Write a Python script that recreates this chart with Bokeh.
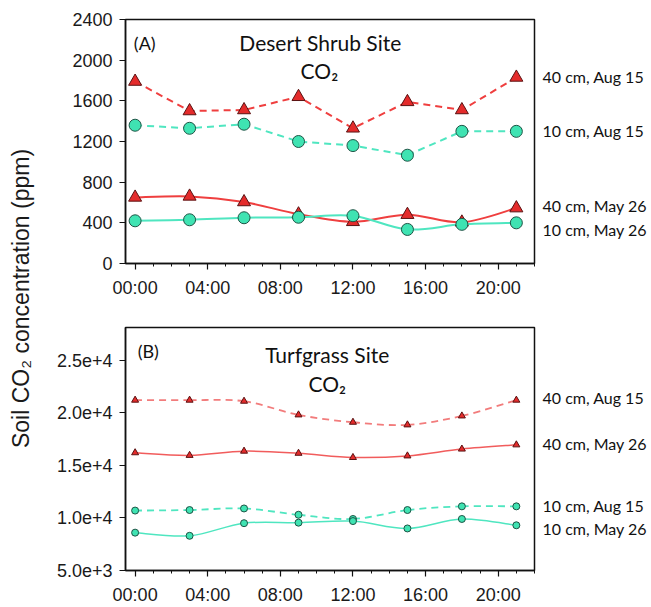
import math
from bokeh.plotting import figure
from bokeh.models import Label, FixedTicker, Range1d, LinearAxis
from bokeh.layouts import row, column
from bokeh.embed import file_html
from bokeh.resources import INLINE
from bokeh.core.properties import value

# ---------------- data ----------------
hours = [0, 3, 6, 9, 12, 15, 18, 21]
x_ticks = [0, 4, 8, 12, 16, 20]
x_tick_labels = ["00:00", "04:00", "08:00", "12:00", "16:00", "20:00"]

desert_40_aug = [1790, 1500, 1510, 1640, 1330, 1590, 1510, 1830]
desert_10_aug = [1360, 1330, 1370, 1200, 1160, 1065, 1300, 1300]
desert_40_may = [650, 660, 605, 485, 410, 480, 405, 545]
desert_10_may = [420, 430, 450, 455, 470, 335, 385, 400]

turf_40_aug = [21200, 21200, 21100, 19800, 19100, 18850, 19700, 21200]
turf_40_may = [16200, 15950, 16350, 16150, 15750, 15900, 16550, 16950]
turf_10_aug = [10700, 10750, 10900, 10300, 9900, 10750, 11100, 11100]
turf_10_may = [8600, 8300, 9500, 9550, 9700, 9000, 9900, 9300]

desert_y_ticks = [0, 400, 800, 1200, 1600, 2000, 2400]
turf_y_ticks = [5000, 10000, 15000, 20000, 25000]
turf_y_tick_labels = ["5.0e+3", "1.0e+4", "1.5e+4", "2.0e+4", "2.5e+4"]

desert_names = ["40 cm, Aug 15", "10 cm, Aug 15", "40 cm, May 26", "10 cm, May 26"]
desert_label_y = [1844, 1310, 569, 335]
turf_names = ["40 cm, Aug 15", "40 cm, May 26", "10 cm, Aug 15", "10 cm, May 26"]
turf_label_y = [21500, 17050, 11200, 9030]

RED_FILL = "#e42b2b"
RED_LINE = "#ef3f3f"
RED_LINE_LIGHT = "#f27c7c"
RED_EDGE = "#5a1212"
CY_FILL = "#3fe3b2"
CY_LINE = "#4fe6c0"
CY_EDGE = "#1d5445"

TICK_FONT = "Liberation Sans"
TXT_FONT = "Lato"


def smooth(p, x, y, color, dash, width, alpha=1.0):
    x = list(x); y = list(y)
    xs = [x[0]] + x + [x[-1]]
    ys = [y[0]] + y + [y[-1]]
    d = dict(x0=[], y0=[], x1=[], y1=[], cx0=[], cy0=[], cx1=[], cy1=[])
    for i in range(len(x) - 1):
        j = i + 1
        d["x0"].append(xs[j]); d["y0"].append(ys[j])
        d["x1"].append(xs[j + 1]); d["y1"].append(ys[j + 1])
        d["cx0"].append(xs[j] + (xs[j + 1] - xs[j - 1]) / 6)
        d["cy0"].append(ys[j] + (ys[j + 1] - ys[j - 1]) / 6)
        d["cx1"].append(xs[j + 1] - (xs[j + 2] - xs[j]) / 6)
        d["cy1"].append(ys[j + 1] - (ys[j + 2] - ys[j]) / 6)
    p.bezier(line_color=color, line_width=width, line_dash=dash, line_alpha=alpha, **d)


def make_fig(height, btop, bbot, ystart, yend, yticks, ylabels, names, name_y):
    p = figure(width=613, height=height, x_range=Range1d(-0.53, 22.0),
               y_range=Range1d(ystart, yend), toolbar_location=None,
               output_backend="svg", min_border_left=87, min_border_right=117,
               min_border_top=btop, min_border_bottom=bbot)
    p.grid.visible = False
    p.outline_line_color = "#111111"
    p.outline_line_width = 1.5
    p.xaxis.ticker = FixedTicker(ticks=x_ticks,
                                 minor_ticks=[h for h in range(0, 23) if h % 4])
    p.xaxis.major_label_overrides = dict(zip(x_ticks, x_tick_labels))
    p.yaxis.ticker = FixedTicker(ticks=yticks)
    if ylabels:
        p.yaxis.major_label_overrides = dict(zip(yticks, ylabels))
    for ax in (p.xaxis[0], p.yaxis[0]):
        ax.axis_line_color = "#111111"
        ax.axis_line_width = 1.5
        ax.major_tick_line_color = "#111111"
        ax.major_tick_line_width = 1.2
        ax.major_tick_in = 0
        ax.major_tick_out = 6
        ax.minor_tick_in = 0
        ax.minor_tick_out = 3
        ax.minor_tick_line_color = "#111111"
        ax.major_label_text_font = TICK_FONT
        ax.major_label_text_font_size = "18px"
        ax.major_label_text_color = "#1a1a1a"
    p.yaxis.minor_tick_line_color = None
    p.xaxis.major_label_standoff = 8
    p.yaxis.major_label_standoff = 7

    # series names on the right, as an axis without line or ticks
    ra = LinearAxis(ticker=FixedTicker(ticks=name_y),
                    major_label_overrides=dict(zip(name_y, names)),
                    axis_line_color=None, major_tick_line_color=None,
                    minor_tick_line_color=None, major_tick_in=0, major_tick_out=0,
                    major_label_standoff=8, major_label_text_font=TXT_FONT,
                    major_label_text_font_size="16px", major_label_text_color="#111111")
    p.add_layout(ra, "right")
    return p


def add_text(p, x, y, txt, size="21px", align="center"):
    p.add_layout(Label(x=x, y=y, text=txt, text_font=TXT_FONT, text_font_size=size,
                       text_align=align, text_baseline="middle", text_color="#111111"))


# ---------------- top panel ----------------
top = make_fig(300, 19, 35, 0, 2400, desert_y_ticks, None, desert_names, desert_label_y)
top.line(hours, desert_40_aug, line_color=RED_LINE, line_width=2, line_dash="7 5")
top.line(hours, desert_10_aug, line_color=CY_LINE, line_width=2, line_dash="7 5")
smooth(top, hours, desert_40_may, RED_LINE, "solid", 2)
smooth(top, hours, desert_10_may, CY_LINE, "solid", 2)
for ys in (desert_40_aug, desert_40_may):
    top.scatter(hours, ys, marker="triangle", size=13, fill_color=RED_FILL,
                line_color=RED_EDGE, line_width=1)
for ys in (desert_10_aug, desert_10_may):
    top.scatter(hours, ys, marker="circle", size=12, fill_color=CY_FILL,
                line_color=CY_EDGE, line_width=1)
add_text(top, -0.07, 2166, "(A)", "18px", "left")
add_text(top, 10.2, 2176, "Desert Shrub Site")
add_text(top, 10.15, 1902, "CO₂")

# ---------------- bottom panel ----------------
bot = make_fig(307, 27, 35, 5000, 28110, turf_y_ticks, turf_y_tick_labels, turf_names, turf_label_y)
smooth(bot, hours, turf_40_aug, RED_LINE_LIGHT, "7 5", 1.8)
smooth(bot, hours, turf_40_may, RED_LINE, "solid", 1.5, 0.85)
smooth(bot, hours, turf_10_aug, CY_LINE, "7 5", 1.8)
smooth(bot, hours, turf_10_may, CY_LINE, "solid", 1.5)
for ys in (turf_40_aug, turf_40_may):
    bot.scatter(hours, ys, marker="triangle", size=7, fill_color=RED_FILL,
                line_color=RED_EDGE, line_width=1)
for ys in (turf_10_aug, turf_10_may):
    bot.scatter(hours, ys, marker="circle", size=7, fill_color=CY_FILL,
                line_color=CY_EDGE, line_width=1)
add_text(bot, 0.14, 25850, "(B)", "18px", "left")
add_text(bot, 10.58, 25540, "Turfgrass Site")
add_text(bot, 10.58, 22770, "CO₂")

# ---------------- shared y-axis label ----------------
lab = figure(width=38, height=607, x_range=Range1d(0, 38), y_range=Range1d(0, 607),
             toolbar_location=None, output_backend="svg", x_axis_type=None,
             y_axis_type=None, min_border=0)
lab.grid.visible = False
lab.outline_line_color = None
lab.text(x=[20], y=[607 - 298], text=["Soil CO₂ concentration (ppm)"], angle=math.pi / 2,
         text_align="center", text_baseline="middle", text_font=value(TICK_FONT),
         text_font_size="23px", text_color="#1a1a1a")

layout = row(lab, column(top, bot))
open("out.html", "w").write(file_html(layout, INLINE))
